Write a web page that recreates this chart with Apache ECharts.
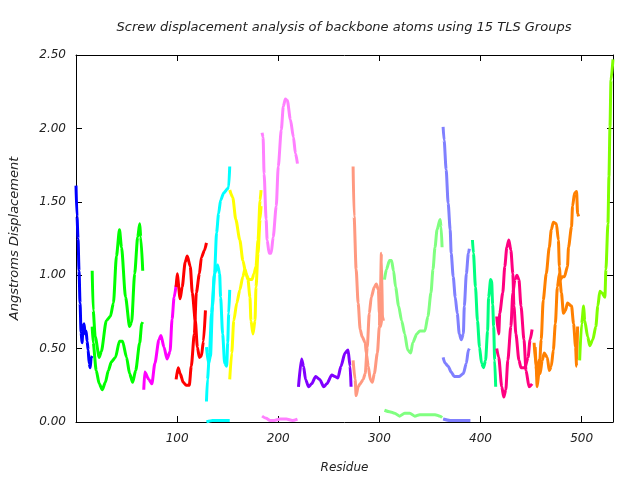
<!DOCTYPE html>
<html>
<head>
<meta charset="utf-8">
<script src="https://cdn.jsdelivr.net/npm/echarts@6/dist/echarts.min.js"></script>
<style>
  html, body { margin: 0; padding: 0; background: #fff; }
  #chart { width: 640px; height: 480px; }
</style>
</head>
<body>
<div id="chart"></div>
<script>
// residue ranges / values, [residue, displacement]
const blue1 = [[0,1.61],[1,1.40],[2,1.25],[3,1.03],[4,0.81],[5,0.61],[6,0.54],[7,0.65],[8,0.67],[9,0.60],[10,0.62],[11,0.55],[12,0.49],[13,0.40],[14,0.37],[15,0.44],[16,0.45]];
const green1 = [[16,1.03],[17,0.76],[19,0.58],[23,0.44],[25,0.48],[30,0.69],[34,0.72],[37,0.81],[40,1.13],[43,1.31],[45,1.19],[49,0.85],[53,0.65],[55,0.68],[58,1.01],[61,1.26],[63,1.35],[64,1.26],[66,1.03]];
const green2 = [[16,0.65],[17,0.54],[20,0.35],[23,0.26],[26,0.22],[29,0.27],[32,0.35],[35,0.41],[39,0.44],[43,0.55],[46,0.55],[50,0.44],[53,0.33],[56,0.27],[59,0.35],[63,0.54],[65,0.67],[66,0.68]];
const magenta1 = [[67,0.22],[68,0.34],[72,0.29],[75,0.26],[78,0.40],[82,0.56],[84,0.59],[87,0.51],[90,0.43],[93,0.48],[95,0.70],[97,0.85],[99,0.93]];
const red1 = [[99,0.92],[100,1.01],[103,0.84],[105,0.92],[108,1.09],[110,1.13],[113,1.06],[115,0.88],[118,0.69],[120,0.51],[122,0.44],[124,0.45],[126,0.55],[128,0.76]];
const red2 = [[99,0.29],[101,0.37],[103,0.33],[106,0.27],[109,0.25],[112,0.25],[114,0.38],[117,0.60],[119,0.88],[122,1.01],[124,1.12],[127,1.17],[129,1.22]];
const cyan1 = [[129,0.14],[130,0.29],[132,0.47],[134,0.74],[137,1.01],[139,1.29],[141,1.42],[143,1.51],[146,1.56],[150,1.59],[151,1.60],[152,1.74]];
const cyan2 = [[129,0.51],[131,0.40],[133,0.45],[135,0.79],[137,1.01],[140,1.07],[142,1.01],[143,0.85],[145,0.60],[147,0.40],[149,0.38],[150,0.54],[151,0.74],[152,0.90]];
const cyan3 = [[129,0.00],[135,0.01],[140,0.01],[146,0.01],[152,0.01]];
const yellow1 = [[152,1.58],[155,1.53],[158,1.38],[162,1.24],[165,1.10],[168,1.01],[171,0.97],[174,0.97],[176,1.01],[178,1.06],[180,1.24],[182,1.51],[183,1.58]];
const yellow2 = [[152,0.29],[154,0.47],[156,0.69],[159,0.81],[162,0.90],[165,0.99],[167,1.04],[170,0.97],[172,0.85],[173,0.69],[175,0.60],[177,0.69],[178,0.92],[180,1.15],[182,1.38],[183,1.47]];
const violet1 = [[184,1.97],[185,1.94],[186,1.69],[188,1.38],[189,1.24],[191,1.15],[193,1.15],[195,1.26],[198,1.47],[200,1.74],[203,1.99],[205,2.15],[207,2.20],[209,2.19],[212,2.06],[215,1.94],[217,1.83],[219,1.76]];
const violet2 = [[184,0.04],[188,0.025],[192,0.01],[196,0.01],[202,0.02],[208,0.02],[214,0.01],[219,0.02]];
const purple1 = [[220,0.24],[223,0.43],[225,0.38],[227,0.29],[230,0.24],[233,0.26],[237,0.31],[241,0.29],[245,0.24],[248,0.26],[253,0.32],[256,0.31],[259,0.30],[262,0.38],[266,0.47],[269,0.49],[271,0.38],[272,0.24]];
const salmon1 = [[274,1.74],[275,1.40],[277,1.04],[279,0.81],[281,0.63],[283,0.58],[286,0.54],[287,0.47],[289,0.38],[291,0.29],[293,0.27],[295,0.33],[298,0.47],[300,0.65],[301,0.88],[302,1.15],[303,0.70]];
const salmon2 = [[274,0.42],[276,0.29],[277,0.18],[279,0.24],[281,0.26],[284,0.29],[286,0.33],[288,0.51],[290,0.74],[292,0.85],[295,0.92],[297,0.94],[299,0.90],[300,0.74],[301,0.65],[303,0.72],[304,0.69]];
const lgreen1 = [[305,0.97],[307,1.04],[310,1.10],[312,1.10],[314,1.03],[316,0.92],[319,0.79],[322,0.69],[325,0.60],[328,0.49],[331,0.47],[333,0.54],[337,0.60],[340,0.62],[345,0.62],[348,0.72],[351,0.88],[353,1.04],[355,1.19],[357,1.31],[360,1.38],[361,1.33],[362,1.19]];
const lgreen2 = [[305,0.08],[310,0.07],[315,0.06],[320,0.04],[325,0.06],[330,0.06],[335,0.04],[340,0.05],[345,0.05],[350,0.05],[355,0.05],[360,0.04],[362,0.03]];
const slate1 = [[363,2.01],[364,1.92],[366,1.72],[368,1.49],[370,1.31],[371,1.15],[373,0.99],[375,0.85],[377,0.74],[379,0.60],[381,0.56],[383,0.60],[384,0.79],[386,1.01],[388,1.15],[389,1.18]];
const slate2 = [[363,0.44],[365,0.40],[368,0.38],[371,0.34],[374,0.31],[379,0.31],[383,0.33],[386,0.40],[388,0.49],[389,0.50]];
const slate3 = [[363,0.02],[370,0.01],[380,0.01],[385,0.01],[390,0.01]];
const spring1 = [[392,1.24],[393,1.15],[395,0.92],[397,0.69],[399,0.51],[401,0.40],[403,0.37],[405,0.42],[407,0.62],[408,0.85],[410,0.97],[411,0.96],[412,0.80],[413,0.65],[414,0.42],[415,0.24]];
const pink1 = [[416,0.72],[418,0.60],[419,0.74],[422,0.88],[424,1.06],[426,1.19],[428,1.24],[430,1.17],[432,1.01],[433,0.79],[435,0.60],[438,0.42],[440,0.37],[444,0.37],[447,0.44],[449,0.56],[451,0.63]];
const pink2 = [[416,0.50],[418,0.44],[421,0.24],[423,0.17],[425,0.22],[427,0.42],[430,0.65],[432,0.88],[434,0.97],[436,1.00],[438,0.97],[440,0.79],[443,0.56],[445,0.35],[448,0.24],[451,0.26]];
const orange1 = [[453,0.54],[455,0.38],[456,0.24],[458,0.35],[460,0.56],[462,0.83],[465,1.01],[468,1.19],[470,1.31],[472,1.36],[475,1.35],[477,1.24],[478,1.06],[479,0.97],[481,0.99],[483,0.99],[486,1.06],[487,1.19],[490,1.33],[491,1.47],[493,1.56],[495,1.57],[496,1.42],[497,1.40]];
const orange2 = [[454,0.51],[456,0.29],[458,0.42],[459,0.33],[461,0.42],[463,0.47],[466,0.44],[468,0.35],[470,0.38],[472,0.49],[474,0.67],[476,0.92],[478,1.01],[480,0.88],[482,0.74],[484,0.76],[486,0.81],[490,0.79],[492,0.67],[494,0.51],[495,0.38],[496,0.65]];
const lime1 = [[498,0.42],[500,0.67],[502,0.79],[503,0.69],[506,0.58],[508,0.52],[511,0.56],[514,0.65],[516,0.79],[518,0.89],[520,0.88],[523,0.85],[524,1.04],[526,1.35],[527,1.67],[528,2.01],[529,2.33],[531,2.47]];

const xTicks = [100, 200, 300, 400, 500];
const yTicks = [0, 0.5, 1, 1.5, 2, 2.5];

const groups = [
    { color: '#0000ff', lines: [blue1] },
    { color: '#00ff00', lines: [green1, green2] },
    { color: '#ff00ff', lines: [magenta1] },
    { color: '#ff0000', lines: [red1, red2] },
    { color: '#00ffff', lines: [cyan1, cyan2, cyan3] },
    { color: '#ffff00', lines: [yellow1, yellow2] },
    { color: '#ff80ff', lines: [violet1, violet2] },
    { color: '#8000ff', lines: [purple1] },
    { color: '#ff9980', lines: [salmon1, salmon2] },
    { color: '#80ff80', lines: [lgreen1, lgreen2] },
    { color: '#8080ff', lines: [slate1, slate2, slate3] },
    { color: '#00ff80', lines: [spring1] },
    { color: '#ff0080', lines: [pink1, pink2] },
    { color: '#ff8000', lines: [orange1, orange2] },
    { color: '#80ff00', lines: [lime1] }
];

const font = 'DejaVu Sans';
const textColor = '#222';

let series = [];
groups.forEach(g => {
    g.lines.forEach(d => {
        series.push({
            type: 'line',
            data: d,
            showSymbol: false,
            smooth: 0.25,
            smoothMonotone: 'x',
            lineStyle: { color: g.color, width: 3 },
            itemStyle: { color: g.color },
            silent: true
        });
    });
});

const chart = echarts.init(document.getElementById('chart'));

const tickStyle = { show: true, inside: true, length: 6, lineStyle: { color: '#000' } };
const axisLineStyle = { show: true, onZero: false, lineStyle: { color: '#000', width: 1 } };

let option = {
    animation: false,
    graphic: [{
        type: 'text',
        x: 344,
        y: 28,
        style: {
            text: 'Screw displacement analysis of backbone atoms using 15 TLS Groups',
            fontFamily: font,
            fontStyle: 'italic',
            fontSize: 13,
            fill: textColor,
            textAlign: 'center',
            textVerticalAlign: 'middle'
        }
    }],
    grid: { left: 76, right: 27, top: 55, bottom: 58 },
    xAxis: [
        {
            type: 'value',
            position: 'bottom',
            min: 0,
            max: 531,
            interval: 100,
            name: 'Residue',
            nameLocation: 'middle',
            nameGap: 40,
            nameTextStyle: { fontFamily: font, fontStyle: 'italic', fontSize: 12, color: textColor },
            axisLine: axisLineStyle,
            axisTick: tickStyle,
            splitLine: { show: false },
            axisLabel: {
                margin: 11,
                fontFamily: font, fontStyle: 'italic', fontSize: 12, color: textColor,
                formatter: v => xTicks.includes(v) ? String(v) : ''
            }
        },
        {
            type: 'value',
            position: 'top',
            min: 0,
            max: 531,
            interval: 100,
            axisLine: axisLineStyle,
            axisTick: tickStyle,
            splitLine: { show: false },
            axisLabel: { show: false }
        }
    ],
    yAxis: [
        {
            type: 'value',
            position: 'left',
            min: 0,
            max: 2.5,
            interval: 0.5,
            name: 'Angstroms Displacement',
            nameLocation: 'middle',
            nameGap: 55,
            nameTextStyle: { fontFamily: font, fontStyle: 'italic', fontSize: 13, color: textColor },
            axisLine: axisLineStyle,
            axisTick: tickStyle,
            splitLine: { show: false },
            axisLabel: {
                margin: 10,
                fontFamily: font, fontStyle: 'italic', fontSize: 12, color: textColor,
                formatter: v => yTicks.includes(v) ? v.toFixed(2) : ''
            }
        },
        {
            type: 'value',
            position: 'right',
            min: 0,
            max: 2.5,
            interval: 0.5,
            axisLine: axisLineStyle,
            axisTick: tickStyle,
            splitLine: { show: false },
            axisLabel: { show: false }
        }
    ],
    series: series
};

chart.setOption(option);
</script>
</body>
</html>
